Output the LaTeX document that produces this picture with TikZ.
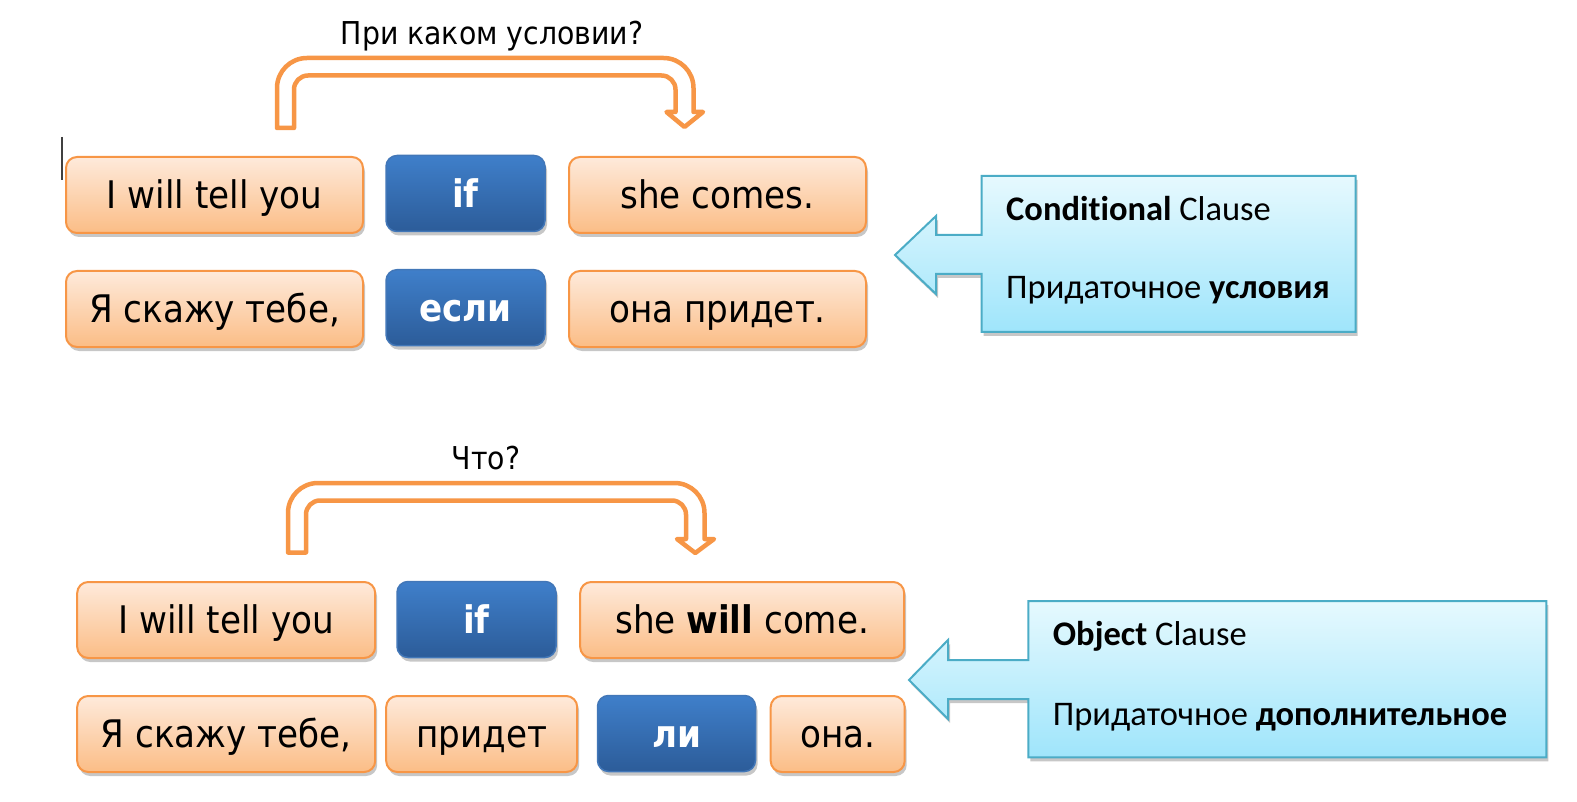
\documentclass[tikz,border=0pt]{standalone}
\usepackage{fontspec}
\setmainfont{DejaVu Sans Condensed}[BoldFont={DejaVu Sans Condensed Bold}]
\newfontfamily\clausefont{Carlito}[Ligatures=NoCommon]
\usepackage{tikz}
\usetikzlibrary{shadows}

\definecolor{boxorange}{HTML}{F79646}
\definecolor{boxtop}{HTML}{FEEADB}
\definecolor{boxbottom}{HTML}{FBBD86}
\definecolor{keytop}{HTML}{3F7FCA}
\definecolor{keybottom}{HTML}{2C5C99}
\definecolor{keyline}{HTML}{4277B8}
\definecolor{calloutline}{HTML}{4BACC6}
\definecolor{callouttop}{HTML}{E6F9FE}
\definecolor{calloutbottom}{HTML}{9FE5FB}

\tikzset{
  boxshadow/.style={drop shadow={shadow xshift=2pt, shadow yshift=-4pt, fill=black, opacity=0.22}},
  wordbox/.style={draw=boxorange, line width=2pt, rounded corners=11pt, top color=boxtop, bottom color=boxbottom,
    boxshadow, minimum height=76pt, inner sep=0pt, text height=27.7pt, text depth=0pt,
    font=\fontsize{38}{40}\selectfont},
  keybox/.style={wordbox, draw=keyline, line width=1.5pt, top color=keytop, bottom color=keybottom,
    text=white, font=\fontsize{38}{40}\selectfont\bfseries},
  bentarrow/.style={draw=boxorange, line width=4.5pt, fill=white, line join=round},
  callout/.style={draw=calloutline, line width=2pt, top color=callouttop, bottom color=calloutbottom, boxshadow},
  clausetext/.style={anchor=base west, inner sep=0pt, font=\clausefont\fontsize{34.5}{36}\selectfont},
  question/.style={anchor=base, inner sep=0pt, font=\fontsize{31.5}{33}\selectfont}
}

\begin{document}
\begin{tikzpicture}[x=1pt, y=-1pt]
    \useasboundingbox (0,0) rectangle (1577,802);

    % Kursor
    \draw[line width=1.2pt, black!75] (62,137) -- (62,180);

    % Conditional clause
    \node[question] (q1) at (492,44.3) {При каком условии?};
    \draw[bentarrow] (277,128) -- (277,88) .. controls (277,71.4) and (290.4,58) .. (307,58)
        -- (663.5,58) .. controls (680.1,58) and (693.5,71.4) .. (693.5,88)
        -- (693.5,112) -- (703,112) -- (684.5,127) -- (666.5,112) -- (675.5,112)
        -- (675.5,89.5) .. controls (675.5,81.8) and (669.3,75.5) .. (661.5,75.5)
        -- (308,75.5) .. controls (300.3,75.5) and (294,81.8) .. (294,89.5)
        -- (294,128) -- cycle;

    \node[wordbox, minimum width=297pt] (r1a) at (214.5,195) {I will tell you};
    \node[keybox, minimum width=159pt] (r1b) at (465.5,193.5) {if};
    \node[wordbox, minimum width=297pt] (r1c) at (717.5,195) {she comes.};
    \node[wordbox, minimum width=297pt] (r2a) at (214.5,309) {Я скажу тебе,};
    \node[keybox, minimum width=159pt] (r2b) at (465.5,307.7) {если};
    \node[wordbox, minimum width=297pt] (r2c) at (717.5,309) {она придет.};

    \path[callout] (981.7,176) -- (1355.7,176) -- (1355.7,332) -- (981.7,332) -- (981.7,274)
        -- (936,274) -- (936,294) -- (895,255) -- (936,216) -- (936,235) -- (981.7,235) -- cycle;
    \node[clausetext] (c1a) at (1006,220.7) {\textbf{Conditional} Clause};
    \node[clausetext] (c1b) at (1006,299) {Придаточное \textbf{условия}};

    % Object clause
    \node[question] (q2) at (486,469.3) {Что?};
    \draw[bentarrow] (288,552.5) -- (288,513) .. controls (288,496.4) and (301.4,483) .. (318,483)
        -- (674.5,483) .. controls (691.1,483) and (704.5,496.4) .. (704.5,513)
        -- (704.5,539) -- (714,539) -- (695.3,553) -- (677,539) -- (686,539)
        -- (686,514.5) .. controls (686,506.8) and (679.7,500.5) .. (672,500.5)
        -- (320,500.5) .. controls (312.3,500.5) and (306,506.8) .. (306,514.5)
        -- (306,552.5) -- cycle;

    \node[wordbox, minimum width=298pt] (r3a) at (226.2,620) {I will tell you};
    \node[keybox, minimum width=159pt] (r3b) at (476.5,619.5) {if};
    \node[wordbox, minimum width=324pt] (r3c) at (742.2,620) {she \textbf{will} come.};
    \node[wordbox, minimum width=298pt] (r4a) at (226.2,734) {Я скажу тебе,};
    \node[wordbox, minimum width=191pt] (r4b) at (481.7,734) {придет};
    \node[keybox, minimum width=158pt] (r4c) at (676.5,733.5) {ли};
    \node[wordbox, minimum width=134pt] (r4d) at (837.7,734) {она.};

    \path[callout] (1028.3,601) -- (1546.3,601) -- (1546.3,757.3) -- (1028.3,757.3) -- (1028.3,699)
        -- (948,699) -- (948,719) -- (909,680) -- (948,640) -- (948,660) -- (1028.3,660) -- cycle;
    \node[clausetext] (c2a) at (1052.7,645) {\textbf{Object} Clause};
    \node[clausetext] (c2b) at (1052.7,725) {Придаточное \textbf{дополнительное}};
\end{tikzpicture}
\end{document}
